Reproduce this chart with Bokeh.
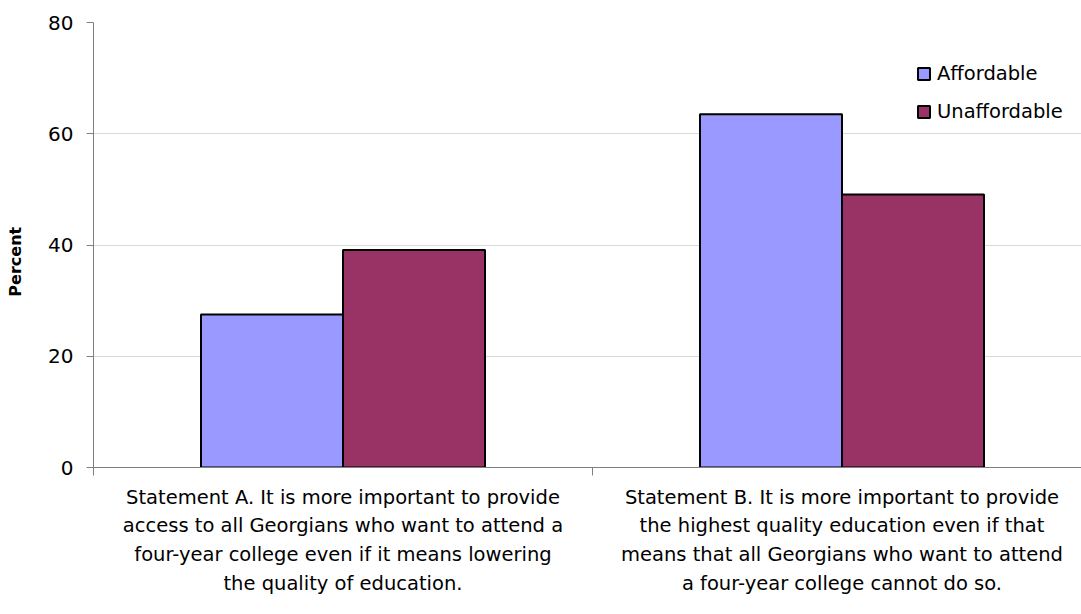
import numpy as np
from bokeh.plotting import figure
from bokeh.models import Range1d, FixedTicker, Legend
from bokeh.embed import file_html
from bokeh.resources import INLINE

categories = [
    "Statement A. It is more important to provide\naccess to all Georgians who want to attend a\nfour-year college even if it means lowering\nthe quality of education.",
    "Statement B. It is more important to provide\nthe highest quality education even if that\nmeans that all Georgians who want to attend\na four-year college cannot do so.",
]
series_names = ["Affordable", "Unaffordable"]
affordable = [27.5, 63.5]
unaffordable = [39.1, 49.1]
y_ticks = [0, 20, 40, 60, 80]

colors = ["#9999FF", "#993366"]
FONT = "DejaVu Sans"

p = figure(width=1081, height=614, output_backend="svg", toolbar_location=None,
           x_range=Range1d(0, 1.98), y_range=Range1d(0, 80),
           min_border_left=93, min_border_right=0, min_border_top=22, min_border_bottom=147)
p.outline_line_color = None
p.background_fill_color = "white"
p.border_fill_color = "white"

idx = np.arange(len(categories))
bw = 0.2846
centers = idx + 0.5
r1 = p.vbar(x=centers - bw / 2, top=affordable, width=bw, bottom=0,
            fill_color=colors[0], line_color="black", line_width=2)
r2 = p.vbar(x=centers + bw / 2, top=unaffordable, width=bw, bottom=0,
            fill_color=colors[1], line_color="black", line_width=2)

# x axis
xa = p.xaxis[0]
xa.ticker = FixedTicker(ticks=list(centers), minor_ticks=list(np.arange(len(categories) + 1)))
xa.major_label_overrides = {float(c): lab for c, lab in zip(centers, categories)}
xa.major_tick_line_color = None
xa.major_tick_in = 0
xa.major_tick_out = 0
xa.minor_tick_in = 0
xa.minor_tick_out = 8
xa.minor_tick_line_color = "#808080"
xa.axis_line_color = "#808080"
xa.major_label_text_font = FONT
xa.major_label_text_font_size = "19.5px"
xa.major_label_text_color = "black"
xa.major_label_text_line_height = 1.255
xa.major_label_standoff = 10

# y axis
ya = p.yaxis[0]
ya.ticker = FixedTicker(ticks=y_ticks, minor_ticks=[])
ya.axis_line_color = "#808080"
ya.major_tick_line_color = "#808080"
ya.major_tick_in = 0
ya.major_tick_out = 7
ya.major_label_text_font = FONT
ya.major_label_text_font_size = "20px"
ya.major_label_text_color = "black"
ya.major_label_standoff = 13
ya.axis_label = "Percent" + "\u00a0" * 6
ya.axis_label_text_font = FONT
ya.axis_label_text_font_style = "bold"
ya.axis_label_text_font_size = "16px"
ya.axis_label_text_color = "black"
ya.axis_label_standoff = 20

p.xgrid.grid_line_color = None
p.ygrid.grid_line_color = "#d9d9d9"
p.ygrid.ticker = FixedTicker(ticks=y_ticks)

legend = Legend(items=[(series_names[0], [r1]), (series_names[1], [r2])],
                location=(823, 344))
legend.glyph_width = 15
legend.glyph_height = 15
legend.label_height = 15
legend.label_standoff = 6
legend.spacing = 15
legend.padding = 0
legend.margin = 0
legend.border_line_color = None
legend.background_fill_alpha = 0
legend.label_text_font = FONT
legend.label_text_font_size = "19.5px"
legend.label_text_color = "black"
p.add_layout(legend)

open("out.html", "w").write(file_html(p, INLINE))
